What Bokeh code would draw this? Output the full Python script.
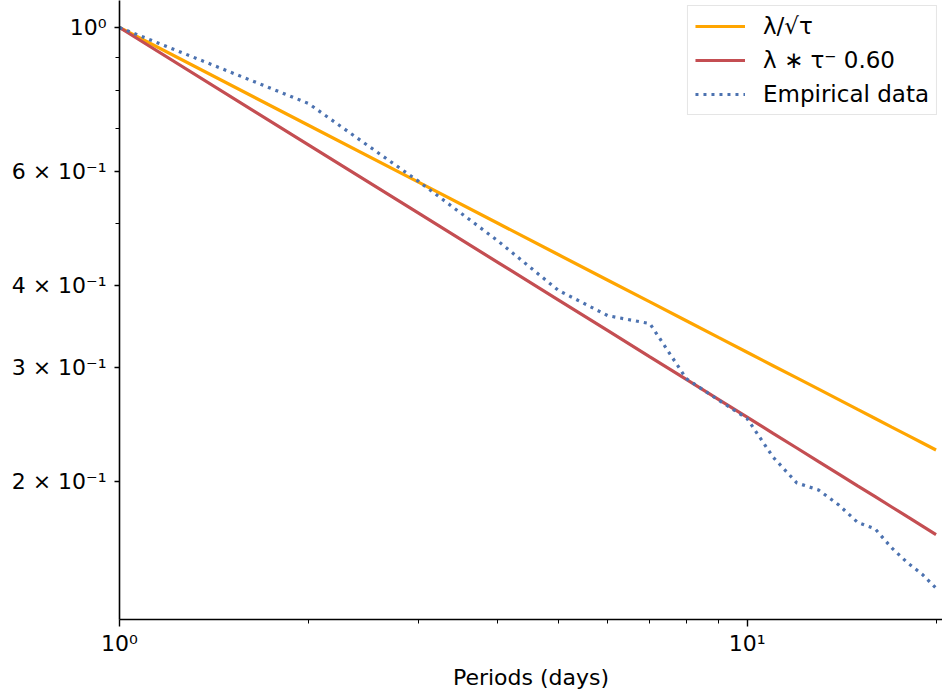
from bokeh.plotting import figure
from bokeh.models import FixedTicker, Range1d, Legend, LegendItem
from bokeh.embed import file_html
from bokeh.resources import INLINE

# ---- data ----
days = [1, 2, 3, 4, 5, 6, 7, 8, 9, 10, 11, 12, 13, 14, 15, 16, 17, 18, 19, 20]
empirical = [1.0, 0.764, 0.579, 0.470, 0.394, 0.360, 0.350, 0.288, 0.267, 0.250,
             0.218, 0.199, 0.194, 0.184, 0.173, 0.169, 0.158, 0.150, 0.144, 0.137]
fit_sqrt = [1.0, 0.7071, 0.5774, 0.5, 0.4472, 0.4082, 0.3780, 0.3536, 0.3333, 0.3162,
            0.3015, 0.2887, 0.2774, 0.2673, 0.2582, 0.25, 0.2425, 0.2357, 0.2294, 0.2236]
fit_060 = [1.0, 0.6598, 0.5173, 0.4353, 0.3807, 0.3413, 0.3111, 0.2872, 0.2676, 0.2512,
           0.2372, 0.2252, 0.2146, 0.2053, 0.1969, 0.1895, 0.1827, 0.1765, 0.1709, 0.1657]

x_major = [1, 10]
x_minor = [2, 3, 4, 5, 6, 7, 8, 9, 20]
x_labels = {1: "10\u2070", 10: "10\u00b9"}
y_major = [0.2, 0.3, 0.4, 0.6, 1.0]
y_minor = [0.5, 0.7, 0.8, 0.9]
y_labels = {0.2: "2 \u00d7 10\u207b\u00b9", 0.3: "3 \u00d7 10\u207b\u00b9",
            0.4: "4 \u00d7 10\u207b\u00b9", 0.6: "6 \u00d7 10\u207b\u00b9", 1.0: "10\u2070"}

labels = ["\u03bb/\u221a\u03c4", "\u03bb \u2217 \u03c4\u207b 0.60", "Empirical data"]

FONT = "DejaVu Sans"

p = figure(width=942, height=695, x_axis_type="log", y_axis_type="log",
           x_range=Range1d(1, 20.48), y_range=Range1d(0.1226, 1.1006),
           output_backend="svg", toolbar_location=None,
           min_border_left=119, min_border_right=0, min_border_top=0, min_border_bottom=76)
p.outline_line_color = None
p.xgrid.visible = False
p.ygrid.visible = False

r1 = p.line(days, fit_sqrt, line_color="#FFA500", line_width=3.2)
r2 = p.line(days, fit_060, line_color="#C44E52", line_width=3.2)
r3 = p.line(days, empirical, line_color="#4C72B0", line_width=3.2, line_dash="3 5")

for ax in (p.xaxis[0], p.yaxis[0]):
    ax.axis_line_color = "black"
    ax.axis_line_width = 1.6
    ax.major_tick_line_color = "black"
    ax.major_tick_line_width = 1.4
    ax.minor_tick_line_color = "black"
    ax.minor_tick_line_width = 1.0
    ax.major_tick_in = 0
    ax.minor_tick_in = 0
    ax.major_label_text_font = FONT
    ax.major_label_text_font_size = "22px"
    ax.major_label_text_color = "black"

xa = p.xaxis[0]
xa.ticker = FixedTicker(ticks=x_major, minor_ticks=x_minor)
xa.major_label_overrides = x_labels
xa.major_tick_out = 7
xa.minor_tick_out = 4
xa.major_label_standoff = 4
xa.axis_label = "Periods (days)"
xa.axis_label_text_font = FONT
xa.axis_label_text_font_size = "22px"
xa.axis_label_text_font_style = "normal"
xa.axis_label_text_color = "black"
xa.axis_label_standoff = 6

ya = p.yaxis[0]
ya.ticker = FixedTicker(ticks=y_major, minor_ticks=y_minor)
ya.major_label_overrides = y_labels
ya.major_tick_out = 5
ya.minor_tick_out = 4
ya.major_label_standoff = 8

legend = Legend(items=[LegendItem(label=labels[0], renderers=[r1]),
                       LegendItem(label=labels[1], renderers=[r2]),
                       LegendItem(label=labels[2], renderers=[r3])],
                location="top_right")
legend.margin = 5
legend.padding = 7
legend.spacing = 8
legend.glyph_width = 50
legend.glyph_height = 26
legend.label_height = 26
legend.label_standoff = 18
legend.label_text_font = FONT
legend.label_text_font_size = "23px"
legend.label_text_color = "black"
legend.border_line_color = "#cccccc"
legend.border_line_width = 1.5
legend.background_fill_alpha = 0.8
p.add_layout(legend)

open("out.html", "w").write(file_html(p, INLINE))
